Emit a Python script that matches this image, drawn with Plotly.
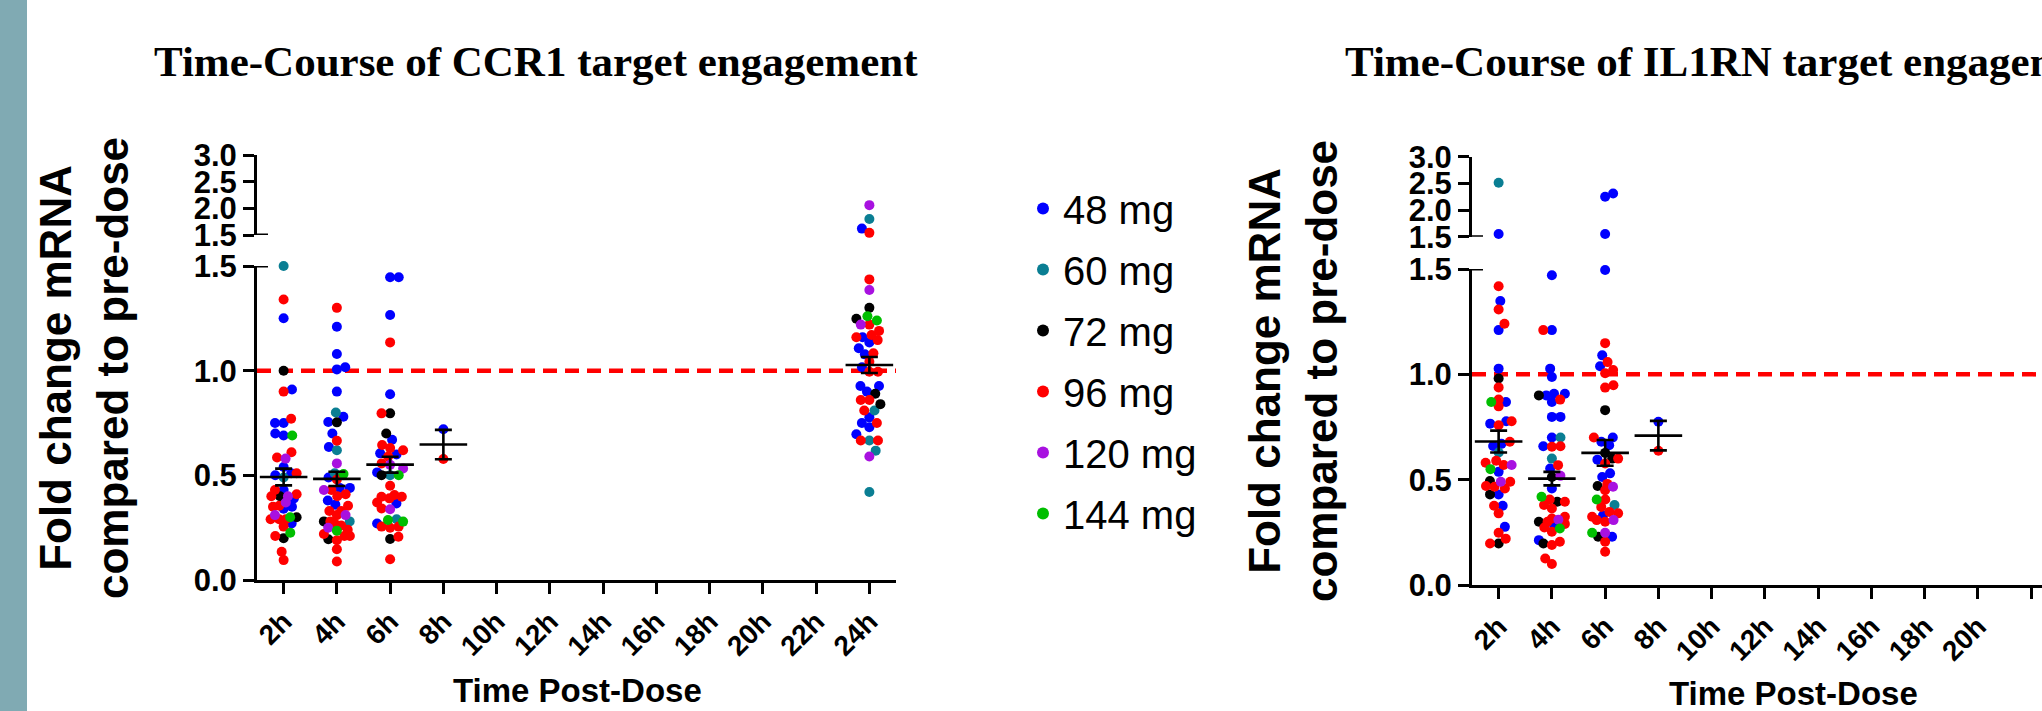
import math
import plotly.graph_objects as go

W, H = 2042, 711

# ---------------- data ----------------
TIMES = ["2h", "4h", "6h", "8h", "10h", "12h", "14h", "16h", "18h", "20h", "22h", "24h"]
DOSES = ["48 mg", "60 mg", "72 mg", "96 mg", "120 mg", "144 mg"]
DOSE_COLORS = ["#0000FF", "#0A7E93", "#000000", "#FF0000", "#A811E0", "#00BE00"]

# CCR1 panel: values per dose, keyed by time point
CCR1_48 = {"2h": [1.25, 0.91, 0.75, 0.75, 0.69, 0.70, 0.54, 0.51, 0.50, 0.43, 0.39, 0.35, 0.34, 0.27],
           "4h": [1.21, 1.08, 1.006, 1.016, 0.90, 0.78, 0.755, 0.70, 0.635, 0.49, 0.44, 0.44, 0.36, 0.38],
           "6h": [1.446, 1.446, 1.266, 0.887, 0.67, 0.605, 0.60, 0.514, 0.366, 0.27],
           "8h": [0.72],
           "24h": [1.62, 1.16, 1.135, 1.107, 1.078, 1.016, 0.927, 0.927, 0.90, 0.777, 0.75, 0.73, 0.696]}
CCR1_60 = {"2h": [1.50, 0.49], "4h": [0.80, 0.62, 0.51, 0.28], "6h": [0.50, 0.29],
           "24h": [1.80, 0.81, 0.666, 0.618, 0.42]}
CCR1_72 = {"2h": [1.00, 0.40, 0.30, 0.20], "4h": [0.753, 0.28, 0.195], "6h": [0.796, 0.70, 0.50, 0.196],
           "24h": [1.30, 1.248, 0.89, 0.84]}
CCR1_96 = {"2h": [1.34, 0.90, 0.77, 0.61, 0.585, 0.51, 0.43, 0.41, 0.40, 0.355, 0.35, 0.29, 0.29, 0.29,
                  0.255, 0.21, 0.135, 0.095],
           "4h": [1.30, 0.665, 0.48, 0.43, 0.40, 0.41, 0.355, 0.33, 0.33, 0.31, 0.28, 0.26, 0.27, 0.24,
                  0.22, 0.21, 0.19, 0.21, 0.147, 0.088],
           "6h": [1.135, 0.796, 0.645, 0.63, 0.62, 0.59, 0.557, 0.45, 0.406, 0.398, 0.398, 0.39, 0.37,
                  0.342, 0.255, 0.255, 0.25, 0.207, 0.099],
           "8h": [0.578],
           "24h": [1.54, 1.436, 1.22, 1.19, 1.16, 1.17, 1.146, 1.083, 1.043, 0.995, 0.995, 0.86, 0.86,
                   0.81, 0.75, 0.666, 0.666]}
CCR1_120 = {"2h": [0.58, 0.40, 0.37, 0.31], "4h": [0.557, 0.43, 0.31, 0.25], "6h": [0.55, 0.533, 0.338],
            "24h": [2.06, 1.385, 1.22, 0.59]}
CCR1_144 = {"2h": [0.69, 0.30, 0.226], "4h": [0.506, 0.235], "6h": [0.50, 0.279, 0.287],
            "24h": [1.24, 1.26]}
CCR1_MEAN_TIMES = ["2h", "4h", "6h", "8h", "24h"]
CCR1_MEAN = [0.492, 0.483, 0.551, 0.647, 1.027]
CCR1_SEM = [0.040, 0.034, 0.038, 0.070, 0.038]

# IL1RN panel
IL1RN_48 = {"2h": [1.55, 1.348, 1.21, 1.027, 0.869, 0.777, 0.766, 0.67, 0.66, 0.537, 0.43, 0.376, 0.276],
            "4h": [1.47, 1.21, 1.027, 0.987, 0.908, 0.90, 0.908, 0.869, 0.798, 0.798, 0.70, 0.659,
                   0.553, 0.458, 0.284, 0.213],
            "6h": [2.25, 2.31, 1.55, 1.495, 1.09, 1.038, 0.70, 0.68, 0.663, 0.595, 0.53, 0.513, 0.33, 0.229],
            "8h": [0.775]}
IL1RN_60 = {"2h": [2.51, 0.629], "4h": [0.70, 0.60], "6h": [0.38]}
IL1RN_72 = {"2h": [0.98, 0.494, 0.43, 0.197], "4h": [0.90, 0.513, 0.395, 0.30, 0.197],
            "6h": [0.83, 0.627, 0.60, 0.47, 0.229]}
IL1RN_96 = {"2h": [1.418, 1.308, 1.24, 0.938, 0.88, 0.848, 0.777, 0.758, 0.68, 0.59, 0.58, 0.57, 0.49,
                   0.47, 0.466, 0.458, 0.376, 0.34, 0.248, 0.22, 0.197],
            "4h": [1.21, 0.88, 0.656, 0.659, 0.569, 0.406, 0.395, 0.38, 0.363, 0.324, 0.316, 0.30, 0.29,
                   0.273, 0.253, 0.205, 0.19, 0.126, 0.10],
            "6h": [1.148, 1.058, 1.02, 1.005, 0.948, 0.937, 0.70, 0.60, 0.577, 0.48, 0.45, 0.406, 0.37,
                   0.347, 0.34, 0.324, 0.308, 0.30, 0.205, 0.158],
            "8h": [0.637]}
IL1RN_120 = {"2h": [0.57, 0.49], "4h": [0.518, 0.31], "6h": [0.466, 0.308, 0.248]}
IL1RN_144 = {"2h": [0.869, 0.55], "4h": [0.419, 0.268], "6h": [0.406, 0.248]}
IL1RN_MEAN_TIMES = ["2h", "4h", "6h", "8h"]
IL1RN_MEAN = [0.681, 0.505, 0.627, 0.709]
IL1RN_SEM = [0.052, 0.032, 0.061, 0.070]

Y_TICKS_LOW = [0.0, 0.5, 1.0, 1.5]
Y_TICKS_HIGH = [1.5, 2.0, 2.5, 3.0]
BREAK = 1.5

# ---------------- layout geometry (pixels) ----------------
def fx(p):
    return p / W

def fy(p):
    return (H - p) / H

LEFT = dict(x0=257, x1=896, low=(580, 266), high=(235, 155), xrange=[0.5, 12.5])
RIGHT = dict(x0=1472, x1=2042, low=(585, 269), high=(236.7, 156.7))
PPU_X = (LEFT["x1"] - LEFT["x0"]) / 12.0
RIGHT["xrange"] = [0.5, 0.5 + (RIGHT["x1"] - RIGHT["x0"]) / PPU_X]


def swarm(vals, ppu_y, d=8.6, maxw=13.0):
    """Beeswarm offsets (px) computed from values."""
    n = len(vals)
    order = sorted(range(n), key=lambda i: vals[i])
    placed = []
    offs = [0.0] * n
    flip = 1
    for i in order:
        y = vals[i] * ppu_y
        near = [(px, py) for px, py in placed if abs(py - y) < d]
        cands = [0.0]
        for px, py in near:
            dx = math.sqrt(d * d - (py - y) ** 2)
            cands += [px + dx, px - dx]
        valid = [c for c in cands if abs(c) <= maxw + 1e-9 and
                 all((c - px) ** 2 + (y - py) ** 2 >= d * d - 1e-6 for px, py in near)]
        if valid:
            best = min(abs(c) for c in valid)
            opts = [c for c in valid if abs(abs(c) - best) < 1e-6]
            x = max(opts) if flip > 0 else min(opts)
            flip = -flip
        else:
            grid = [-maxw + k * maxw / 6 for k in range(13)]
            x = max(grid, key=lambda c: (min((c - px) ** 2 + (y - py) ** 2 for px, py in near), -abs(c)))
        placed.append((x, y))
        offs[i] = x
    return offs


fig = go.Figure()


def add_panel(dose_data, geo, xa, ya_low, ya_high, showlegend):
    ppu_low = (geo["low"][0] - geo["low"][1]) / 1.5
    ppu_high = (geo["high"][0] - geo["high"][1]) / 1.5
    pts = {d: {"lx": [], "ly": [], "hx": [], "hy": []} for d in DOSES}
    for ti, t in enumerate(TIMES):
        items = [(d, v) for d, dd in zip(DOSES, dose_data) for v in dd.get(t, [])]
        low = [(d, v) for d, v in items if v <= BREAK]
        high = [(d, v) for d, v in items if v > BREAK]
        if low:
            offs = swarm([v for _, v in low], ppu_low)
            for (d, v), o in zip(low, offs):
                pts[d]["lx"].append(ti + 1 + o / PPU_X)
                pts[d]["ly"].append(v)
        if high:
            offs = swarm([v - BREAK for _, v in high], ppu_high)
            for (d, v), o in zip(high, offs):
                pts[d]["hx"].append(ti + 1 + o / PPU_X)
                pts[d]["hy"].append(v)
    for d, c in zip(DOSES, DOSE_COLORS):
        fig.add_trace(go.Scatter(x=pts[d]["lx"], y=pts[d]["ly"], mode="markers", name=d,
                                 legendgroup=d, showlegend=showlegend, cliponaxis=False,
                                 marker=dict(size=10, color=c, line=dict(width=0)),
                                 xaxis=xa, yaxis=ya_low))
    for d, c in zip(DOSES, DOSE_COLORS):
        fig.add_trace(go.Scatter(x=pts[d]["hx"], y=pts[d]["hy"], mode="markers", name=d,
                                 legendgroup=d, showlegend=False, cliponaxis=False,
                                 marker=dict(size=10, color=c, line=dict(width=0)),
                                 xaxis=xa, yaxis=ya_high))


def add_means(times, means, sems, xa, ya):
    fig.add_trace(go.Scatter(
        x=[TIMES.index(t) + 1 for t in times], y=means, mode="markers", showlegend=False,
        cliponaxis=False,
        marker=dict(symbol="line-ew", size=34, color="black", line=dict(width=2.6, color="black")),
        error_y=dict(type="data", array=sems, visible=True, color="black", thickness=2.6, width=8.5),
        xaxis=xa, yaxis=ya))


add_panel([CCR1_48, CCR1_60, CCR1_72, CCR1_96, CCR1_120, CCR1_144], LEFT, "x", "y", "y2", True)
add_means(CCR1_MEAN_TIMES, CCR1_MEAN, CCR1_SEM, "x", "y")
add_panel([IL1RN_48, IL1RN_60, IL1RN_72, IL1RN_96, IL1RN_120, IL1RN_144], RIGHT, "x2", "y3", "y4", False)
add_means(IL1RN_MEAN_TIMES, IL1RN_MEAN, IL1RN_SEM, "x2", "y3")

AX_FONT = dict(family="Liberation Sans, Arial, sans-serif", size=31, color="black")
XT_FONT = dict(family="Liberation Sans, Arial, sans-serif", size=28, color="black")


def xaxis(geo, anchor):
    return dict(domain=[fx(geo["x0"]), fx(geo["x1"])], range=geo["xrange"], anchor=anchor,
                tickvals=list(range(1, 13)), ticktext=["<b>%s</b>" % t for t in TIMES],
                tickangle=-45, tickfont=XT_FONT,
                showline=True, linecolor="black", linewidth=3, ticks="outside", ticklen=11,
                tickwidth=3, tickcolor="black", showgrid=False, zeroline=False, automargin=False)


def yaxis(rng, dom, ticks, anchor):
    return dict(domain=[fy(dom[0]), fy(dom[1])], range=rng, anchor=anchor, tickvals=ticks,
                ticktext=["<b>%.1f</b>" % t for t in ticks], tickfont=AX_FONT,
                showline=True, linecolor="black", linewidth=3, ticks="outside", ticklen=11,
                tickwidth=3, tickcolor="black", showgrid=False, zeroline=False, automargin=False)


shapes = [dict(type="rect", xref="paper", yref="paper", x0=0, x1=fx(27), y0=0, y1=1,
               fillcolor="#80AAB3", line=dict(width=0), layer="below")]
for xa, ya in (("x", "y"), ("x2", "y3")):
    shapes.append(dict(type="line", xref=xa + " domain", yref=ya, x0=0, x1=1, y0=1.0, y1=1.0,
                       line=dict(color="#FF0000", width=4.5, dash="14px,8px"), layer="below"))
for geo, yl, yh in ((LEFT, "y", "y2"), (RIGHT, "y3", "y4")):
    for yr in (yl, yh):
        shapes.append(dict(type="line", xref="paper", yref=yr, x0=fx(geo["x0"]), x1=fx(geo["x0"] + 11),
                           y0=BREAK, y1=BREAK, line=dict(color="black", width=3)))

TITLE_FONT = dict(family="Liberation Serif, Times New Roman, serif", size=43, color="black")
YT_FONT = dict(family="Liberation Sans, Arial, sans-serif", size=44, color="black")
XTITLE_FONT = dict(family="Liberation Sans, Arial, sans-serif", size=33, color="black")
YTITLE = "<b>Fold change mRNA</b><br><b>compared to pre-dose</b>"

annotations = [
    dict(text="<b>Time-Course of CCR1 target engagement</b>", x=fx(152), y=fy(62), xref="paper",
         yref="paper", xanchor="left", yanchor="middle", showarrow=False, font=TITLE_FONT),
    dict(text="<b>Time-Course of IL1RN target engagement</b>", x=fx(1343), y=fy(62), xref="paper",
         yref="paper", xanchor="left", yanchor="middle", showarrow=False, font=TITLE_FONT),
    dict(text=YTITLE, x=fx(84), y=fy(368), xref="paper", yref="paper", xanchor="center",
         yanchor="middle", textangle=-90, showarrow=False, font=YT_FONT),
    dict(text=YTITLE, x=fx(1293), y=fy(371), xref="paper", yref="paper", xanchor="center",
         yanchor="middle", textangle=-90, showarrow=False, font=YT_FONT),
    dict(text="<b>Time Post-Dose</b>", x=fx(577), y=fy(690), xref="paper", yref="paper",
         xanchor="center", yanchor="middle", showarrow=False, font=XTITLE_FONT),
    dict(text="<b>Time Post-Dose</b>", x=fx(1793), y=fy(693), xref="paper", yref="paper",
         xanchor="center", yanchor="middle", showarrow=False, font=XTITLE_FONT),
]

fig.update_layout(
    template="none",
    width=W, height=H, margin=dict(l=0, r=0, t=0, b=0),
    paper_bgcolor="white", plot_bgcolor="rgba(0,0,0,0)",
    xaxis=xaxis(LEFT, "y"),
    yaxis=yaxis([0, 1.5], LEFT["low"], Y_TICKS_LOW, "x"),
    yaxis2=yaxis([1.5, 3.0], LEFT["high"], Y_TICKS_HIGH, "x"),
    xaxis2=xaxis(RIGHT, "y3"),
    yaxis3=yaxis([0, 1.5], RIGHT["low"], Y_TICKS_LOW, "x2"),
    yaxis4=yaxis([1.5, 3.0], RIGHT["high"], Y_TICKS_HIGH, "x2"),
    shapes=shapes, annotations=annotations,
    showlegend=True,
    legend=dict(x=fx(1023), y=fy(176), xanchor="left", yanchor="top", bgcolor="rgba(0,0,0,0)",
                font=dict(family="Liberation Sans, Arial, sans-serif", size=40, color="black"),
                itemsizing="constant", tracegroupgap=6),
)

fig.write_html("out.html", config={"displayModeBar": False})
